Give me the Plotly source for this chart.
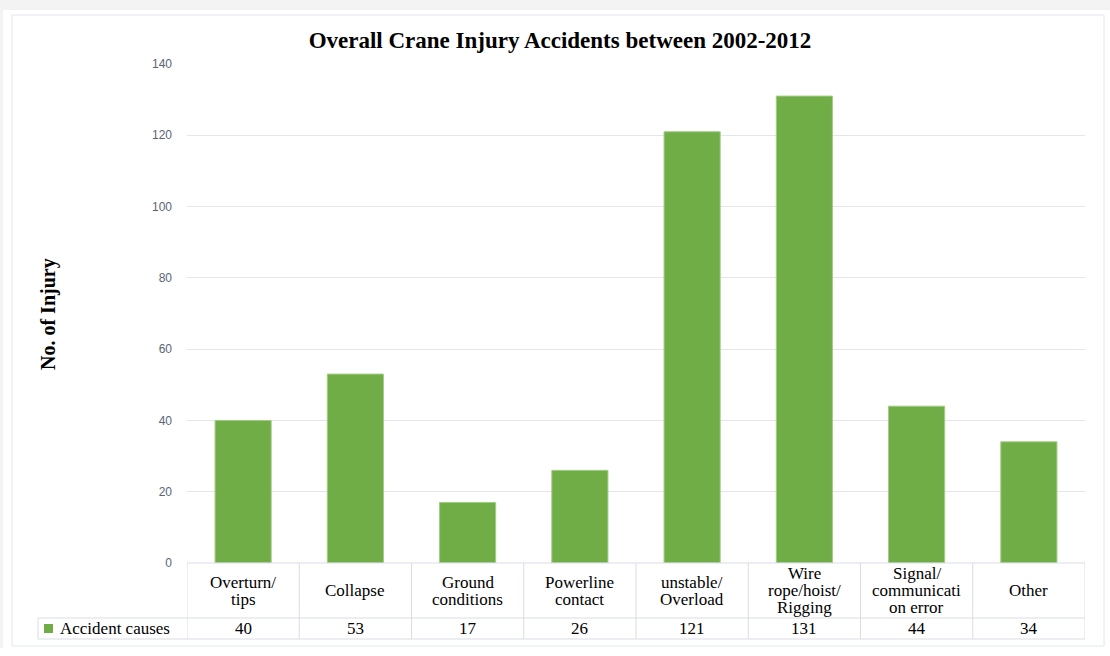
import plotly.graph_objects as go

# ---- data ----
categories = ["Overturn/<br>tips", "Collapse", "Ground<br>conditions", "Powerline<br>contact",
              "unstable/<br>Overload", "Wire<br>rope/hoist/<br>Rigging",
              "Signal/<br>communicati<br>on error", "Other"]
values = [40, 53, 17, 26, 121, 131, 44, 34]
series_name = "Accident causes"
y_ticks = [0, 20, 40, 60, 80, 100, 120, 140]
title_text = "Overall Crane Injury Accidents between 2002-2012"
y_title = "No. of Injury"

# ---- layout geometry (pixels) ----
W, H = 1110, 656
L, R, T, B = 187, 1085, 64, 563
pw, ph = R - L, B - T


def px(x):
    return (x - L) / pw


def py(y):
    return (B - y) / ph


GREEN = "#70ad47"
LINE = "#d9dde5"
SERIF = "Liberation Serif, Times New Roman, serif"
TFS = 17

x_idx = list(range(len(categories)))

fig = go.Figure()
fig.add_trace(go.Bar(
    x=x_idx, y=values, name=series_name,
    marker=dict(color=GREEN, line=dict(color="#a3cc86", width=1)),
    showlegend=False,
))

shapes = []
annotations = []

# page decoration
shapes.append(dict(type="rect", xref="paper", yref="paper", layer="below",
                   x0=px(0), x1=px(W), y0=py(10), y1=py(0),
                   fillcolor="#f3f3f3", line=dict(width=0)))
shapes.append(dict(type="rect", xref="paper", yref="paper", layer="below",
                   x0=px(0), x1=px(3), y0=py(648), y1=py(0),
                   fillcolor="#f3f3f3", line=dict(width=0)))
shapes.append(dict(type="rect", xref="paper", yref="paper", layer="below",
                   x0=px(12), x1=px(1104), y0=py(646), y1=py(15),
                   fillcolor="white", line=dict(color="#e2e6ec", width=1)))

# data table lines
row1_bot = 618
row2_bot = 639
for i in range(len(categories) + 1):
    shapes.append(dict(type="line", xref="x", yref="paper",
                       x0=i - 0.5, x1=i - 0.5, y0=py(B), y1=py(row2_bot),
                       line=dict(color=LINE, width=1)))
shapes.append(dict(type="line", xref="paper", yref="paper",
                   x0=px(L), x1=px(R), y0=py(B), y1=py(B), line=dict(color=LINE, width=1)))
shapes.append(dict(type="line", xref="paper", yref="paper",
                   x0=px(38), x1=px(R), y0=py(row1_bot), y1=py(row1_bot), line=dict(color=LINE, width=1)))
shapes.append(dict(type="line", xref="paper", yref="paper",
                   x0=px(38), x1=px(R), y0=py(row2_bot), y1=py(row2_bot), line=dict(color=LINE, width=1)))
shapes.append(dict(type="line", xref="paper", yref="paper",
                   x0=px(38), x1=px(38), y0=py(row1_bot), y1=py(row2_bot), line=dict(color=LINE, width=1)))

# legend key in table
shapes.append(dict(type="rect", xref="paper", yref="paper",
                   x0=px(44), x1=px(53), y0=py(633), y1=py(624),
                   fillcolor=GREEN, line=dict(width=0)))
annotations.append(dict(text=series_name, xref="paper", yref="paper",
                        x=px(58), y=py(628.5), xanchor="left", yanchor="middle",
                        showarrow=False, font=dict(family=SERIF, size=TFS, color="black")))

# category labels (one annotation per line for tight spacing)
row1_mid = (B + row1_bot) / 2
line_h = 17
for i, lab in enumerate(categories):
    parts = lab.split("<br>")
    n = len(parts)
    for k, part in enumerate(parts):
        yy = row1_mid + (k - (n - 1) / 2) * line_h
        annotations.append(dict(text=part, xref="x", yref="paper", x=i, y=py(yy),
                                xanchor="center", yanchor="middle", showarrow=False,
                                font=dict(family=SERIF, size=TFS, color="black")))

# values row
row2_mid = (row1_bot + row2_bot) / 2
for i, v in enumerate(values):
    annotations.append(dict(text=str(v), xref="x", yref="paper", x=i, y=py(row2_mid),
                            xanchor="center", yanchor="middle", showarrow=False,
                            font=dict(family=SERIF, size=TFS, color="black")))

# y axis title
annotations.append(dict(text="<b>" + y_title + "</b>", xref="paper", yref="paper",
                        x=px(48), y=py(314), xanchor="center", yanchor="middle",
                        textangle=-90, showarrow=False,
                        font=dict(family=SERIF, size=20, color="black")))

fig.update_layout(
    width=W, height=H,
    margin=dict(l=L, r=W - R, t=T, b=H - B, pad=0),
    paper_bgcolor="white", plot_bgcolor="rgba(0,0,0,0)",
    title=dict(text="<b>" + title_text + "</b>", x=560 / W, xanchor="center",
               y=1 - 40 / H, yanchor="middle",
               font=dict(family=SERIF, size=23, color="black")),
    bargap=0.5,
    showlegend=False,
    shapes=shapes,
    annotations=annotations,
    xaxis=dict(range=[-0.5, len(categories) - 0.5], showticklabels=False,
               showgrid=False, zeroline=False, showline=False, ticks=""),
    yaxis=dict(range=[0, 140], tickvals=y_ticks, showgrid=True, gridcolor="#e4e6ec",
               gridwidth=1, zeroline=False, showline=False, ticks="",
               ticklabelstandoff=14,
               tickfont=dict(family="Liberation Sans, Arial, sans-serif", size=12, color="#5b6475")),
)

fig.write_html("out.html")
